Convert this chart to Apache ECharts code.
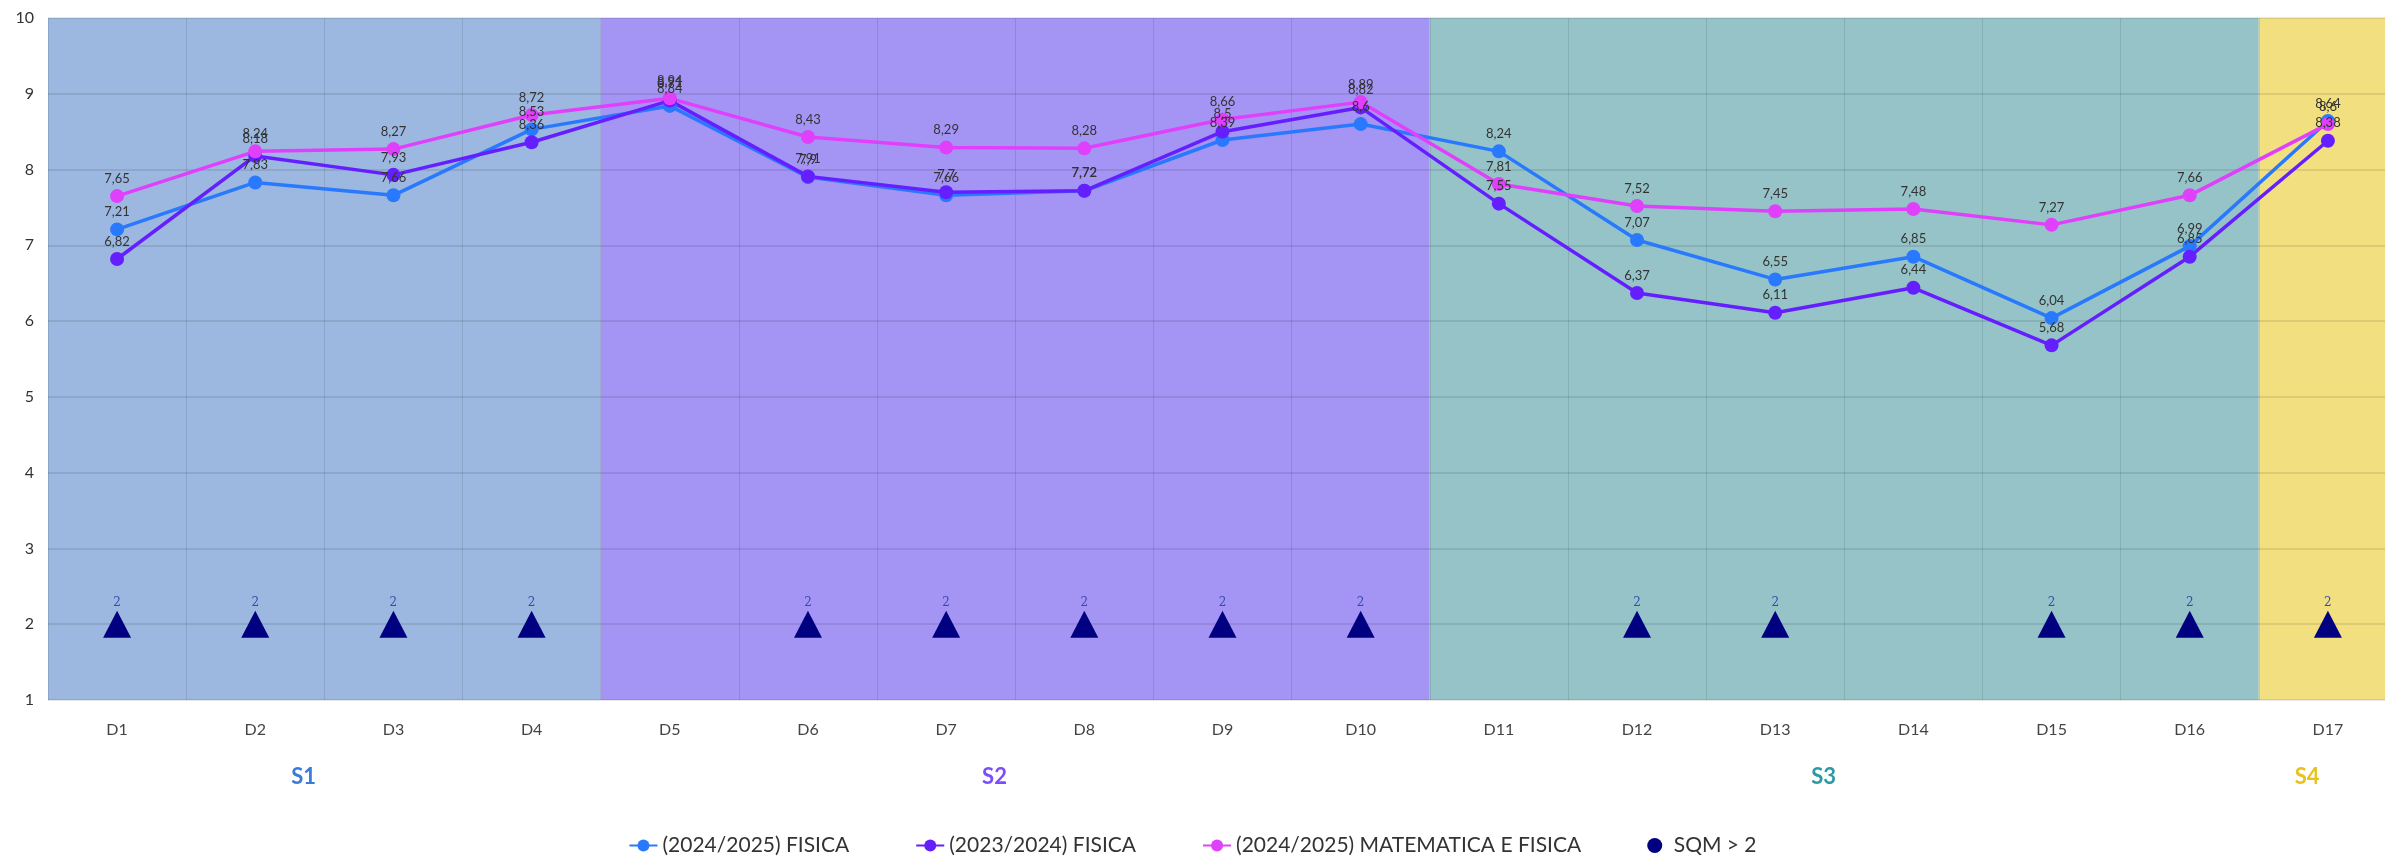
<!DOCTYPE html>
<html>
<head>
<meta charset="utf-8">
<script src="https://cdn.jsdelivr.net/npm/echarts@6/dist/echarts.min.js"></script>
<style>
    html, body { margin: 0; padding: 0; background: #fff; }
    #main { width: 2385px; height: 858px; }
</style>
</head>
<body>
<div id="main"></div>
<script>
// categorie e dati
var categories = ['D1', 'D2', 'D3', 'D4', 'D5', 'D6', 'D7', 'D8', 'D9', 'D10', 'D11', 'D12', 'D13', 'D14', 'D15', 'D16', 'D17'];
var fisica2425 = [7.21, 7.83, 7.66, 8.53, 8.84, 7.9, 7.66, 7.72, 8.39, 8.6, 8.24, 7.07, 6.55, 6.85, 6.04, 6.99, 8.64];
var fisica2324 = [6.82, 8.18, 7.93, 8.36, 8.91, 7.91, 7.7, 7.72, 8.5, 8.82, 7.55, 6.37, 6.11, 6.44, 5.68, 6.85, 8.38];
var matFis2425 = [7.65, 8.24, 8.27, 8.72, 8.94, 8.43, 8.29, 8.28, 8.66, 8.89, 7.81, 7.52, 7.45, 7.48, 7.27, 7.66, 8.6];
var sqm = [2, 2, 2, 2, null, 2, 2, 2, 2, 2, null, 2, 2, null, 2, 2, 2];
var seriesNames = ['(2024/2025) FISICA', '(2023/2024) FISICA', '(2024/2025) MATEMATICA E FISICA', 'SQM > 2'];
var yTicks = [1, 10, 1]; // min, max, intervallo

// sezioni (in unità di categoria)
var sectionNames = ['S1', 'S2', 'S3', 'S4'];
var sectionStart = [0, 4, 10, 16];
var sectionEnd = [4, 10, 16, 17];

var sectionFill = ['#9cb8e0', '#a495f5', '#95c3c8', '#f2df80'];
var sectionText = ['#3b7bd8', '#7c4dff', '#2f9aa5', '#e8c21e'];
var lineColors = ['#2979ff', '#651fff', '#e040fb', '#000080'];

var myChart = echarts.init(document.getElementById('main'));
var FONT = 'Lato, "Noto Sans", sans-serif';

function comma(p) {
    return String(p.value).replace('.', ',');
}

var sectionCenters = sectionStart.map(function(s, i) {
    return (s + sectionEnd[i]) / 2 - 0.15;
});

var rich = {};
sectionNames.forEach(function(n, i) {
    rich['s' + i] = { color: sectionText[i], fontSize: 22, fontWeight: 'bold', fontFamily: FONT };
});

function lineSeries(name, data, color) {
    return {
        name: name,
        type: 'line',
        data: data,
        z: 3,
        symbol: 'circle',
        symbolSize: 14,
        itemStyle: { color: color },
        lineStyle: { color: color, width: 3.5 },
        label: {
            show: true,
            position: 'top',
            distance: 4,
            fontSize: 13,
            color: '#333',
            fontFamily: FONT,
            formatter: comma
        }
    };
}

var option = {
    textStyle: { fontFamily: FONT },
    grid: { left: 48, right: -12, top: 18, bottom: 158, containLabel: false, outerBoundsMode: 'none' },
    legend: {
        bottom: -3,
        left: 'center',
        itemGap: 66,
        itemWidth: 28,
        itemHeight: 15,
        textStyle: { fontSize: 21, color: '#333', fontFamily: FONT },
        data: [
            { name: seriesNames[0] },
            { name: seriesNames[1] },
            { name: seriesNames[2] },
            { name: seriesNames[3], icon: 'circle' }
        ]
    },
    xAxis: [{
        type: 'category',
        data: categories,
        z: 2,
        axisLine: { show: false },
        axisTick: { show: false },
        axisLabel: { fontSize: 16, color: '#444', margin: 22, fontFamily: FONT },
        splitLine: { show: true, interval: 0, lineStyle: { color: 'rgba(0,0,0,0.1)', width: 1 } }
    }, {
        type: 'value',
        min: 0,
        max: categories.length,
        position: 'bottom',
        offset: 58,
        axisLine: { show: false },
        axisTick: { show: false },
        splitLine: { show: false },
        axisLabel: {
            customValues: sectionCenters,
            formatter: function(v) {
                var best = 0;
                sectionCenters.forEach(function(c, i) {
                    if (Math.abs(c - v) < Math.abs(sectionCenters[best] - v)) best = i;
                });
                return '{s' + best + '|' + sectionNames[best] + '}';
            },
            rich: rich
        }
    }],
    yAxis: {
        type: 'value',
        min: yTicks[0],
        max: yTicks[1],
        interval: yTicks[2],
        z: 2,
        axisLine: { show: false },
        axisTick: { show: false },
        axisLabel: { fontSize: 16, color: '#333', margin: 14, fontFamily: FONT },
        splitLine: { lineStyle: { color: 'rgba(0,0,0,0.12)', width: 1.5 } }
    },
    series: [
        {
            name: 'bands',
            type: 'scatter',
            xAxisIndex: 1,
            data: [[0, 1]],
            symbolSize: 0,
            silent: true,
            markArea: {
                silent: true,
                z: 1,
                data: sectionStart.map(function(s, i) {
                    return [
                        { xAxis: s, itemStyle: { color: sectionFill[i] } },
                        { xAxis: sectionEnd[i] }
                    ];
                })
            }
        },
        lineSeries(seriesNames[0], fisica2425, lineColors[0]),
        lineSeries(seriesNames[1], fisica2324, lineColors[1]),
        lineSeries(seriesNames[2], matFis2425, lineColors[2]),
        {
            name: seriesNames[3],
            type: 'scatter',
            data: sqm,
            z: 4,
            symbol: 'triangle',
            symbolSize: [28, 27],
            itemStyle: { color: lineColors[3], opacity: 1 },
            label: {
                show: true,
                position: 'top',
                distance: 2,
                fontSize: 12,
                color: '#3949ab',
                fontFamily: '"DejaVu Serif", serif'
            }
        }
    ]
};

myChart.setOption(option);
</script>
</body>
</html>
